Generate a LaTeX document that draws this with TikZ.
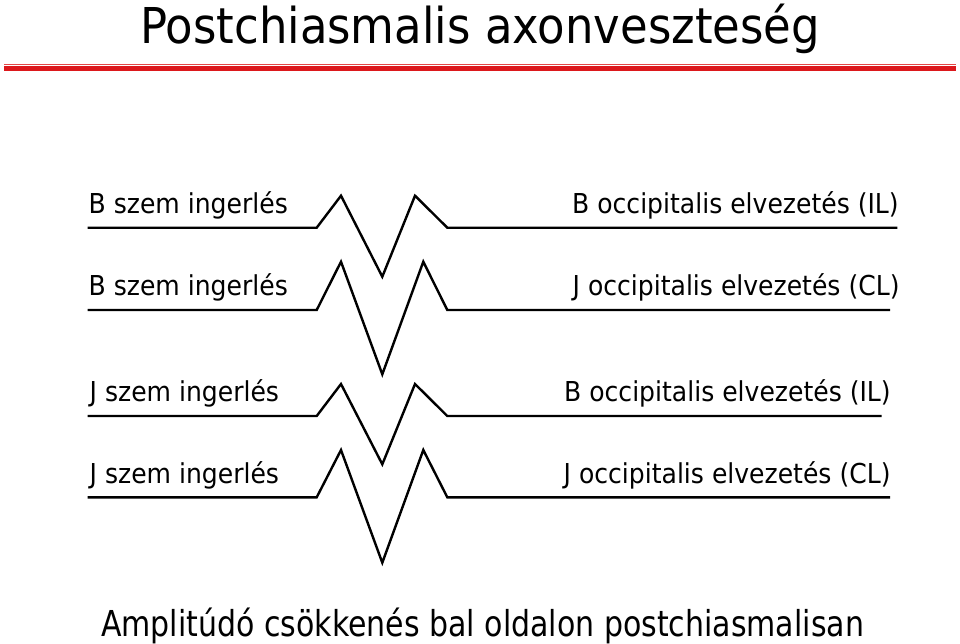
\documentclass[tikz,border=0pt]{standalone}
\usepackage{fontspec}
\setmainfont{DejaVu Sans}
\newfontfamily\labfont[FakeStretch=0.915]{DejaVu Sans}
\newfontfamily\titfont[FakeStretch=0.91]{DejaVu Sans}
\newfontfamily\footfont[FakeStretch=0.84]{DejaVu Sans}
\definecolor{redthick}{RGB}{220,24,28}
\definecolor{redthin}{RGB}{228,70,70}
\begin{document}
\begin{tikzpicture}[x=1pt,y=-1pt,
  lab/.style={anchor=base west,inner sep=0pt,font=\labfont\fontsize{27.4}{30}\selectfont},
  trace/.style={line width=2.4pt,line join=miter}]
\useasboundingbox[fill=white] (0,0) rectangle (960,643);
% title
\node[anchor=base west,inner sep=0pt,font=\titfont\fontsize{49.4}{54}\selectfont] (title) at (140,43.3) {Postchiasmalis axonveszteség};
\coordinate (rl) at (4,64.5); \coordinate (rr) at (956,64.5);
\coordinate (Rl) at (4,68.7); \coordinate (Rr) at (956,68.7);
\draw[redthin,line width=1.5pt] (rl) -- (rr);
\draw[redthick,line width=4.5pt] (Rl) -- (Rr);
% labels
\node[lab] (l1) at (88.5,213.3) {B szem ingerlés};
\node[lab] (l2) at (88.5,295) {B szem ingerlés};
\node[lab] (l3) at (89.5,401.7) {J szem ingerlés};
\node[lab] (l4) at (89.5,483.3) {J szem ingerlés};
\node[lab] (r1) at (572,213.3) {B occipitalis elvezetés (IL)};
\node[lab] (r2) at (572.5,295) {J occipitalis elvezetés (CL)};
\node[lab] (r3) at (564,401.7) {B occipitalis elvezetés (IL)};
\node[lab] (r4) at (563.5,483.3) {J occipitalis elvezetés (CL)};
% traces
\foreach \n/\y/\p/\t/\q/\e in {1/227.7/195.7/276.7/415/897.3, 2/310/261.7/374.3/423.3/890, 3/416/384/464.3/415/881.7, 4/497.3/450/562.7/423.3/890}{
  \coordinate (a\n) at (87.7,\y);
  \coordinate (b\n) at (316.7,\y);
  \coordinate (c\n) at (341,\p);
  \coordinate (d\n) at (382.3,\t);
  \coordinate (f\n) at (\q,\p);
  \coordinate (g\n) at (447.3,\y);
  \coordinate (h\n) at (\e,\y);
  \draw[trace] (a\n) -- (b\n) -- (c\n) -- (d\n) -- (f\n) -- (g\n) -- (h\n);
}
% footer
\node[anchor=base west,inner sep=0pt,font=\footfont\fontsize{35.7}{40}\selectfont] (foot) at (101,636) {Amplitúdó csökkenés bal oldalon postchiasmalisan};
\end{tikzpicture}
\end{document}
